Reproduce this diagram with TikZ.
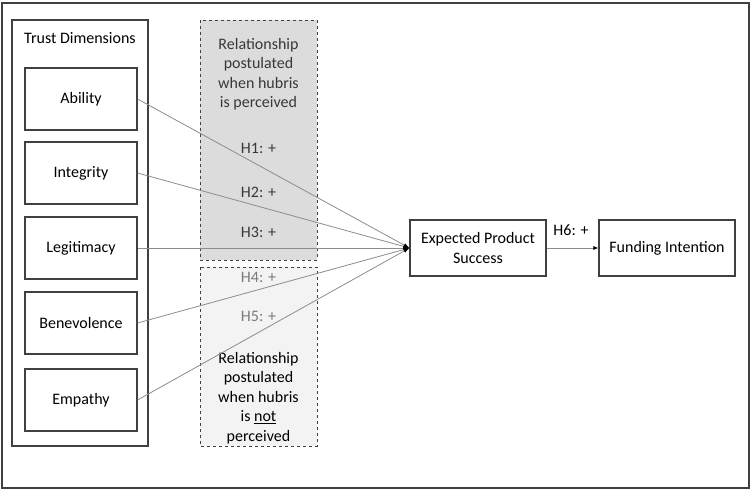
\documentclass[tikz,border=0pt]{standalone}
\usepackage{fontspec}
\setmainfont{Carlito}
\usetikzlibrary{arrows.meta}
\definecolor{bordc}{HTML}{404040}
\definecolor{linec}{HTML}{8C8C8C}
\definecolor{darkbox}{HTML}{DCDCDC}
\definecolor{lightbox}{HTML}{F3F3F3}
\definecolor{htxt}{HTML}{383838}
\definecolor{htxtlight}{HTML}{7A7A7A}
\begin{document}
\begin{tikzpicture}[x=1pt,y=-1pt,
  every node/.style={font=\fontsize{16}{19.5}\selectfont},
  dimbox/.style={draw=bordc,line width=1.1pt,fill=white,minimum width=112pt,minimum height=62pt,inner sep=0pt},
  outbox/.style={draw=bordc,line width=1.1pt,fill=white,minimum width=136pt,minimum height=56pt,inner sep=0pt,align=center},
  conn/.style={draw=linec,line width=0.8pt,-{Latex[length=6pt,width=4pt,color=black]}},
  hyp/.style={text=htxt},
  hypl/.style={text=htxtlight}
]
\useasboundingbox (0,0) rectangle (751,490);
\draw[bordc,line width=1.1pt] (2,3) rectangle (749,488);
% trust dimension container
\draw[bordc,line width=1.1pt] (12,20) rectangle (148,446);
\node (td) at (80,38) {Trust Dimensions};
% shaded boxes
\draw[bordc,dashed,line width=0.9pt,fill=darkbox] (200,20) rectangle (317,260);
\draw[bordc,dashed,line width=0.9pt,fill=lightbox] (200,267) rectangle (317,446);
\node[align=center,text=htxt] (rel1) at (258.5,74) {Relationship\\postulated\\when hubris\\is perceived};
\node[align=center] (rel2) at (258.5,398) {Relationship\\postulated\\when hubris\\is \underline{not}\\perceived};
% dimension boxes
\node[dimbox] (abi) at (81,99) {Ability};
\node[dimbox] (int) at (81,173) {Integrity};
\node[dimbox] (leg) at (81,248) {Legitimacy};
\node[dimbox] (ben) at (81,323) {Benevolence};
\node[dimbox] (emp) at (81,400) {Empathy};
% outcome boxes
\node[outbox] (eps) at (478,248) {Expected Product\\Success};
\node[outbox] (fi) at (667,248) {Funding Intention};
% connectors
\draw[conn] (abi.east) -- (eps.west);
\draw[conn] (int.east) -- (eps.west);
\draw[conn] (leg.east) -- (eps.west);
\draw[conn] (ben.east) -- (eps.west);
\draw[conn] (emp.east) -- (eps.west);
\draw[draw=linec,line width=0.8pt,-{Latex[length=5pt,width=4pt,color=black]}] (eps.east) -- (fi.west);
% hypothesis labels
\node[hyp] (h1) at (258.5,148) {H1: +};
\node[hyp] (h2) at (258.5,192) {H2: +};
\node[hyp] (h3) at (258.5,232) {H3: +};
\node[hypl] (h4) at (258.5,277) {H4: +};
\node[hypl] (h5) at (258.5,316) {H5: +};
\node (h6) at (571,230) {H6: +};
\end{tikzpicture}
\end{document}
